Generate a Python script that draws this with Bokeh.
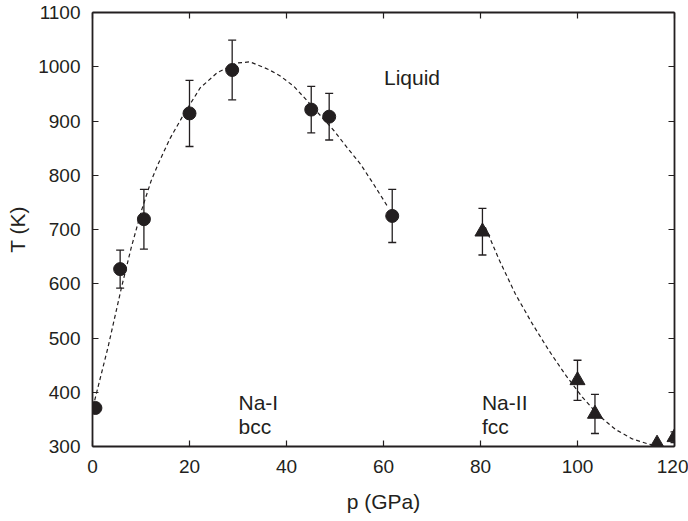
from bokeh.plotting import figure
from bokeh.models import (ColumnDataSource, Range1d, LinearAxis, Whisker, TeeHead,
                          FixedTicker, CustomLabelingPolicy)
from bokeh.core.properties import value
from bokeh.embed import file_html
from bokeh.resources import INLINE

# ---- data ----
p_bcc = [0.6, 5.7, 10.6, 20.0, 28.8, 45.1, 48.8, 61.8]
T_bcc = [371, 627, 719, 914, 994, 921, 908, 725]
err_bcc = [0, 35, 55, 61, 55, 43, 43, 49]

p_fcc = [80.4, 100.0, 103.6, 116.4, 120.0]
T_fcc = [696, 422, 360, 305, 317]
err_fcc = [43, 37, 36, 0, 10]

curve1_p = [0.45, 3.2, 6.0, 8.0, 10.1, 12.1, 13.6, 16.0, 18.8, 22.2, 25.7, 29.8,
            32.5, 36.3, 38.7, 41.5, 44.3, 47.1, 49.8, 52.5, 55.3, 58.0, 60.8]
curve1_T = [385, 483, 594, 667, 735, 790, 822, 868, 912, 961, 989, 1007,
            1009, 995, 983, 964, 937, 909, 882, 851, 820, 783, 743]

curve2_p = [81.0, 83.8, 87.2, 90.7, 94.1, 97.6, 101.0, 104.4, 107.9, 111.3, 114.8, 117.5]
curve2_T = [704, 645, 581, 526, 477, 431, 391, 357, 331, 314, 304, 301]

x_ticks = [0, 20, 40, 60, 80, 100, 120]
y_ticks = [300, 400, 500, 600, 700, 800, 900, 1000, 1100]

labels_text = ["Liquid", "Na-I", "bcc", "Na-II", "fcc"]
labels_p = [60.1, 30.1, 30.1, 80.3, 80.3]
labels_T = [981, 382, 336, 382, 336]

FONT = "Liberation Sans"
INK = "#231f20"

p = figure(width=688, height=521, output_backend="svg", toolbar_location=None,
           x_range=Range1d(0, 120), y_range=Range1d(300, 1100),
           min_border_left=92, min_border_right=14, min_border_top=12,
           min_border_bottom=75, x_axis_label="p (GPa)", y_axis_label="T (K)")
p.grid.visible = False
p.outline_line_color = None
p.background_fill_color = "white"
p.border_fill_color = "white"

no_labels = CustomLabelingPolicy(code="return new Set()")

def style_axis(ax, ticks, show_labels=True):
    ax.ticker = FixedTicker(ticks=ticks)
    ax.axis_line_color = INK
    ax.axis_line_width = 1.8
    ax.major_tick_line_color = INK
    ax.major_tick_line_width = 1.2
    ax.major_tick_in = 6
    ax.major_tick_out = 0
    ax.minor_tick_line_color = None
    ax.major_label_text_font = FONT
    ax.major_label_text_color = INK
    ax.major_label_text_font_size = "19px" if show_labels else "0px"
    ax.major_label_standoff = 12 if show_labels else 0
    if not show_labels:
        ax.major_label_policy = no_labels
    ax.axis_label_text_font = FONT
    ax.axis_label_text_font_style = "normal"
    ax.axis_label_text_font_size = "21px"
    ax.axis_label_text_color = INK

style_axis(p.xaxis[0], x_ticks)
style_axis(p.yaxis[0], y_ticks)
p.xaxis[0].major_label_standoff = 13
p.xaxis[0].axis_label_standoff = 14
p.yaxis[0].axis_label_standoff = 6

top = LinearAxis()
style_axis(top, x_ticks, show_labels=False)
p.add_layout(top, "above")
right = LinearAxis()
style_axis(right, y_ticks, show_labels=False)
p.add_layout(right, "right")

# dashed fit curves
p.line(curve1_p, curve1_T, line_color=INK, line_width=1.2, line_dash="4 3")
p.line(curve2_p, curve2_T, line_color=INK, line_width=1.2, line_dash="4 3")

# error bars
def whisk(ps, Ts, es):
    idx = [i for i, e in enumerate(es) if e > 0]
    src = ColumnDataSource(dict(
        x=[ps[i] for i in idx],
        lo=[Ts[i] - es[i] for i in idx],
        hi=[Ts[i] + es[i] for i in idx]))
    w = Whisker(base="x", lower="lo", upper="hi", source=src, dimension="height",
                line_color=INK, line_width=1.3,
                upper_head=TeeHead(size=8, line_color=INK, line_width=1.3),
                lower_head=TeeHead(size=8, line_color=INK, line_width=1.3))
    p.add_layout(w)

whisk(p_bcc, T_bcc, err_bcc)
whisk(p_fcc, T_fcc, err_fcc)

p.scatter(p_bcc, T_bcc, marker="circle", size=13, fill_color=INK, line_color=INK)
p.scatter(p_fcc, T_fcc, marker="triangle", size=15, fill_color=INK, line_color=INK)

p.text(x=labels_p, y=labels_T, text=labels_text, text_font=value(FONT),
       text_font_size="21px", text_color=INK, text_align="left",
       text_baseline="alphabetic")

open("out.html", "w").write(file_html(p, INLINE))
